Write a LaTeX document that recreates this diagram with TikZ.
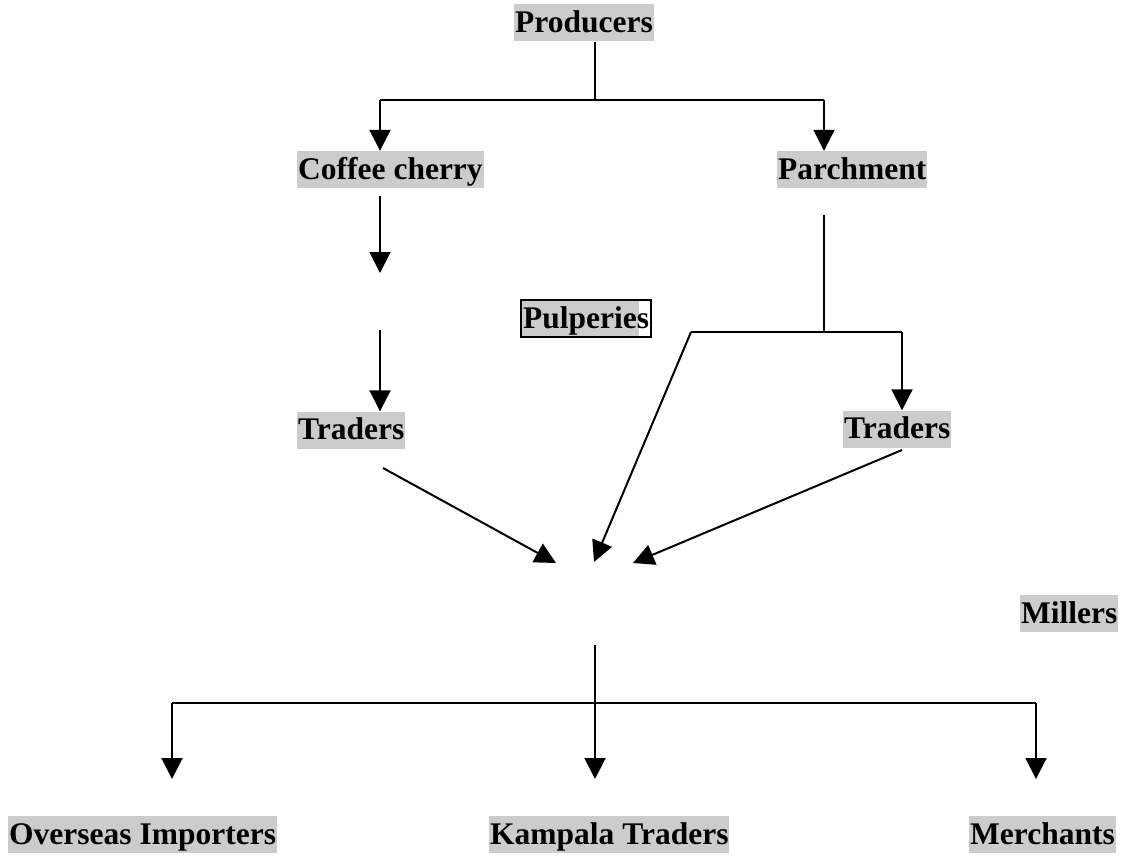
\documentclass[tikz,border=0pt]{standalone}
\usepackage{fontspec}
\setmainfont{Liberation Serif}
\usetikzlibrary{arrows.meta}
\definecolor{lbl}{RGB}{204,204,204}
\tikzset{
  lab/.style={anchor=west, fill=lbl, inner xsep=1pt, inner ysep=0pt,
    minimum height=37pt, text height=28pt, text depth=9pt,
    font=\fontsize{31.5}{36}\selectfont\bfseries},
  ln/.style={line width=2pt, draw=black},
  arr/.style={ln, -{Triangle[length=21pt,width=21pt]}},
}
\begin{document}
\begin{tikzpicture}[x=1pt,y=-1pt]
\useasboundingbox (0,0) rectangle (1123,856);
% labels
\node[lab] (prod) at (514,23) {Producers};
\node[lab] (cherry) at (297,169.5) {Coffee cherry};
\node[lab] (parch) at (777,169.5) {Parchment};
\node[lab, fill=none, draw, line width=2pt, inner xsep=2pt,
  path picture={\fill[lbl] (path picture bounding box.south west) rectangle ([xshift=-12pt]path picture bounding box.north east);}]
  (pulp) at (520,318.5) {Pulperies};
\node[lab] (tradL) at (297,430) {Traders\hspace{9pt}};
\node[lab] (tradR) at (843,429) {Traders};
\node[lab] (mill) at (1020,613.5) {Millers};
\node[lab] (over) at (8,834.5) {Overseas Importers};
\node[lab] (kamp) at (489,834.5) {Kampala Traders};
\node[lab] (merch) at (969,834.5) {Merchants};
% junction coordinates
\coordinate (j1) at (595,100);
\coordinate (ja) at (380,100);
\coordinate (jb) at (824,100);
\coordinate (c1) at (380,196);
\coordinate (c2) at (380,273);
\coordinate (c3) at (380,330);
\coordinate (p1) at (824,215);
\coordinate (p2) at (824,332);
\coordinate (pl) at (691,332);
\coordinate (pr) at (902,332);
\coordinate (mL) at (556,563);
\coordinate (mC) at (594,562);
\coordinate (mR) at (633,563);
\coordinate (sL) at (383,468);
\coordinate (sR) at (902,450);
\coordinate (m1) at (595,645);
\coordinate (m2) at (595,703);
\coordinate (ka) at (172,703);
\coordinate (kb) at (1036,703);
% connectors
\draw[ln] (prod.south -| j1) -- (j1);
\draw[ln] (ja) -- (jb);
\draw[arr] (ja) -- (ja |- cherry.north);
\draw[arr] (jb) -- (jb |- parch.north);
\draw[arr] (c1) -- (c2);
\draw[arr] (c3) -- (tradL.north -| c3);
\draw[ln] (p1) -- (p2);
\draw[ln] (pl) -- (pr);
\draw[arr] (pr) -- (pr |- tradR.north);
\draw[arr] (pl) -- (mC);
\draw[arr] (sL) -- (mL);
\draw[arr] (sR) -- (mR);
\draw[ln] (m1) -- (m2);
\draw[ln] (ka) -- (kb);
\draw[arr] (ka) -- (ka |- 0,779);
\draw[arr] (m2) -- (m2 |- 0,779);
\draw[arr] (kb) -- (kb |- 0,779);
\end{tikzpicture}
\end{document}
